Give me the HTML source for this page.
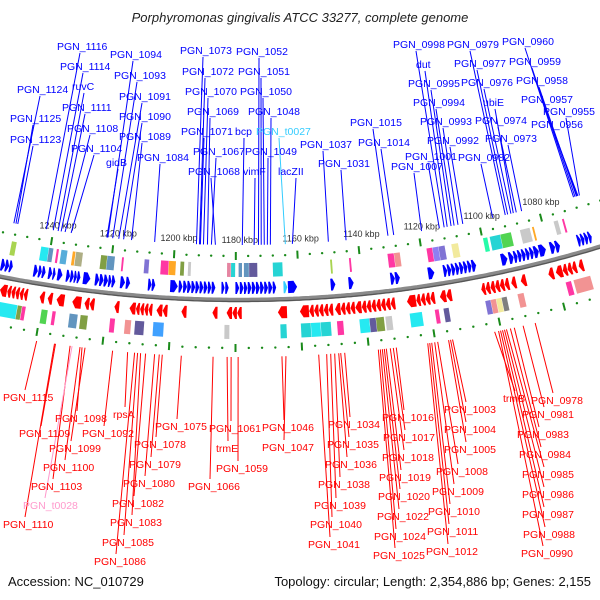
<!DOCTYPE html>
<html><head><meta charset="utf-8"><style>
html,body{margin:0;padding:0;background:#fff;}
svg{display:block;font-family:"Liberation Sans",sans-serif;}
</style></head><body>
<svg id="c" width="600" height="600" viewBox="0 0 600 600">
<text x="300" y="22" text-anchor="middle" font-size="13" font-style="italic" fill="#222">Porphyromonas gingivalis ATCC 33277, complete genome</text>
<text x="8" y="586" font-size="13" fill="#111">Accession: NC_010729</text>
<text x="591" y="586" font-size="13" fill="#111" text-anchor="end">Topology: circular; Length: 2,354,886 bp; Genes: 2,155</text>
</svg>
<script>
// ---- data ----
const fwdGenes = [[1254.6,1253.3],[1253.2,1252],[1251.9,1250.8],[1244.1,1242.8],[1242.6,1241.5],[1241.4,1240.3],[1239.4,1238.2],[1238,1237.1],[1236.5,1234.9],[1233.7,1232.5],[1232.4,1231.3],[1231.2,1230.3],[1230.2,1229.2],[1228.3,1226],[1224.5,1223.2],[1223.1,1221.8],[1221.7,1220.4],[1220.3,1219.3],[1219.2,1218.1],[1216.5,1215],[1214.7,1213.4],[1207.7,1206.6],[1206.5,1205.4],[1200.7,1198.3],[1198,1196.8],[1196.6,1195.4],[1195.3,1194.1],[1194,1192.8],[1192.7,1191.5],[1191.4,1190.2],[1190.1,1188.9],[1188.8,1187.7],[1187.6,1186.4],[1184.5,1183.5],[1183.3,1182.2],[1180.1,1178.9],[1178.7,1177.5],[1177.4,1176.3],[1176.2,1175],[1174.9,1173.7],[1173.6,1172.4],[1172.3,1171.1],[1171,1169.8],[1169.7,1168.4],[1168.3,1167.2],[1163.5,1160.6],[1150,1148.5],[1144.3,1142.7],[1131,1129.6],[1129.5,1128],[1119,1117],[1114.1,1112.9],[1112.8,1111.6],[1111.5,1110.3],[1110.2,1109],[1108.9,1107.7],[1107.6,1106.4],[1106.3,1105.1],[1105,1103.6],[1095.5,1093.5],[1093,1091.5],[1091.4,1090.2],[1090.1,1088.9],[1088.8,1087.6],[1087.5,1086.3],[1086.2,1085],[1084.9,1083.3],[1083.2,1081],[1079.6,1078],[1077.9,1076.4],[1070.7,1069.6],[1069.5,1068.4],[1068.3,1067.2],[1067.1,1066]];
const fwdTrna = [[1164.9,1163.7]];
const revGenes = [[1244.7,1245.9],[1246,1247.2],[1247.3,1248.5],[1248.6,1249.8],[1249.9,1251.1],[1251.2,1253.4],[1239.4,1240.9],[1236.9,1238.4],[1233.2,1235.6],[1227.9,1230.7],[1223.8,1225.3],[1225.4,1226.9],[1216.1,1217.6],[1205.8,1207],[1207.1,1208.3],[1208.4,1209.6],[1209.7,1210.9],[1211,1212.9],[1201.1,1202.6],[1202.7,1204.5],[1195.2,1196.8],[1185.6,1187.2],[1178.1,1179.5],[1179.6,1181],[1181.1,1182.8],[1164.1,1166.9],[1149.8,1151.2],[1151.3,1152.7],[1152.8,1154.2],[1154.3,1155.7],[1155.8,1157.2],[1157.3,1160.1],[1143,1144.4],[1144.5,1145.9],[1146,1147.4],[1147.5,1149.2],[1130.5,1131.9],[1132,1133.4],[1133.5,1134.9],[1135,1136.4],[1136.5,1137.9],[1138,1139.4],[1139.5,1140.9],[1141,1142.9],[1118.1,1119.5],[1119.6,1121],[1121.1,1122.5],[1122.6,1123.9],[1124,1126.8],[1112.8,1114.5],[1114.6,1116.5],[1094.7,1096.1],[1096.2,1097.6],[1097.7,1099.1],[1099.2,1100.6],[1100.7,1102.1],[1102.2,1103.5],[1092.5,1094],[1089.3,1091],[1080.5,1082.2],[1073.2,1074.6],[1074.7,1076.1],[1076.2,1077.6],[1077.7,1079.8],[1071,1072.5]];
const fwdBoxKbp = [[1252.6,1251],[1243,1240.5],[1240.4,1239],[1237.9,1237.2],[1236.4,1234.4],[1232.7,1231.8],[1231.6,1229.4],[1223.5,1221.5],[1221.4,1219],[1216.7,1216.1],[1209.4,1207.9],[1204.1,1201.6],[1201.5,1199.3],[1197.8,1196.6],[1195.3,1194.4],[1182.8,1181.6],[1181.5,1180.2],[1179.1,1178],[1177.4,1175.8],[1175.7,1173.1],[1168.1,1165],[1149.6,1149],[1143.5,1142.9],[1131,1129],[1128.9,1127],[1118.3,1116.5],[1116.4,1114.5],[1114.4,1112.4],[1110.2,1108],[1099.8,1098.4],[1097.6,1094.2],[1094.1,1090.6],[1087.6,1084.4],[1083.6,1083],[1076.4,1075],[1073.6,1073]];
const fwdBoxColor = ["#9acd32","#00e5ee","#4682b4","#ff1493","#3a9fd4","#ff9900","#a0a070","#6b8e23","#4682b4","#ff1493","#6a5acd","#ff1493","#ff9900","#6b8e23","#c0c0c0","#e07090","#00cccc","#4682b4","#4682b4","#483d8b","#00cccc","#9acd32","#ff1493","#ff1493","#f08080","#ff1493","#7b68ee","#6a5acd","#f0e68c","#00fa9a","#00cccc","#32cd32","#c0c0c0","#ff9900","#c0c0c0","#ff1493"];
const revBoxKbp = [[1247.2,1253.4],[1245.8,1247.1],[1244.6,1245.7],[1237.8,1239.7],[1235.3,1236.3],[1228.5,1231],[1225.4,1227.6],[1217,1218.5],[1212,1213.9],[1208,1210.8],[1202,1205.2],[1181.9,1183.4],[1164.4,1166.3],[1157,1160],[1154,1156.9],[1150.8,1153.9],[1147,1148.9],[1139,1142],[1137,1138.9],[1134.5,1136.9],[1132,1134],[1122.7,1126.5],[1117.5,1118.7],[1114.4,1116],[1101.4,1103],[1099.7,1101.3],[1098,1099.6],[1096.3,1097.9],[1091,1092.9],[1076,1077.7],[1069.9,1075.2]];
const revBoxColor = ["#00e5ee","#6b8e23","#ff1493","#32cd32","#ff1493","#4682b4","#6b8e23","#ff1493","#f08080","#483d8b","#1e90ff","#c0c0c0","#00cccc","#00cccc","#00e5ee","#00cccc","#ff1493","#00e5ee","#483d8b","#6b8e23","#c0c0c0","#00e5ee","#ff1493","#483d8b","#6a5acd","#f08080","#f0e68c","#696969","#f08080","#ff1493","#f08080"];
const tickKbp = [1240,1220,1200,1180,1160,1140,1120,1100,1080];
const tickLabels = ["1240 kbp","1220 kbp","1200 kbp","1180 kbp","1160 kbp","1140 kbp","1120 kbp","1100 kbp","1080 kbp"];
const fwdLabelNames = ["PGN_1124","PGN_1125","PGN_1123","PGN_1116","PGN_1114","ruvC","PGN_1111","PGN_1108","PGN_1104","PGN_1094","PGN_1093","PGN_1091","PGN_1090","PGN_1089","gidB","PGN_1084","PGN_1073","PGN_1072","PGN_1070","PGN_1069","PGN_1071","PGN_1067","PGN_1068","PGN_1052","PGN_1051","PGN_1050","PGN_1048","bcp","PGN_t0027","PGN_1049","vimF","lacZII","PGN_1037","PGN_1031","PGN_1015","PGN_1014","PGN_1007","PGN_1001","PGN_0998","dut","PGN_0995","PGN_0994","PGN_0993","PGN_0992","PGN_0979","PGN_0977","PGN_0976","ubiE","PGN_0974","PGN_0973","PGN_0982","PGN_0960","PGN_0959","PGN_0958","PGN_0957","PGN_0955","PGN_0956"];
const fwdLabelKbp = [1253.1,1252.4,1251.8,1242.3,1240,1238.4,1237.4,1236.1,1234.1,1222,1220.4,1218.4,1216.8,1214.2,1222.3,1206.6,1192.9,1191.9,1190.6,1189.3,1191.6,1188,1186.7,1172.6,1171.7,1170.7,1168.7,1177.9,1163.8,1169.7,1174,1161.5,1149.7,1143.9,1130.1,1128.2,1119,1113.1,1111.5,1110.5,1109.2,1108.2,1106.9,1105.3,1091.1,1090.3,1089.2,1088.4,1087.4,1085.6,1095.3,1068,1067.5,1067,1066.5,1066,1066.8];
const fwdLabelX = [17,10,10,57,60,72,62,67,71,110,114,119,119,119,106,137,180,182,185,187,181,193,188,236,238,240,248,235,256,245,243,278,300,318,350,358,391,405,393,416,408,413,420,427,447,454,461,483,475,485,458,502,509,516,521,543,531];
const fwdLabelY = [93,122,143,50,70,90,111,132,152,58,79,100,120,140,166,161,54,75,95,115,135,155,175,55,75,95,115,135,135,155,175,175,148,167,126,146,170,160,48,68,87,106,125,144,48,67,86,106,124,142,161,45,65,84,103,115,128];
const revLabelNames = ["PGN_1115","PGN_1109","PGN_1098","PGN_1092","rpsA","PGN_1099","PGN_1100","PGN_1103","PGN_t0028","PGN_1110","PGN_1075","PGN_1078","PGN_1079","PGN_1080","PGN_1082","PGN_1083","PGN_1085","PGN_1086","PGN_1061","trmE","PGN_1059","PGN_1066","PGN_1046","PGN_1047","PGN_1034","PGN_1035","PGN_1036","PGN_1038","PGN_1039","PGN_1040","PGN_1041","PGN_1016","PGN_1017","PGN_1018","PGN_1019","PGN_1020","PGN_1022","PGN_1024","PGN_1025","PGN_1003","PGN_1004","PGN_1005","PGN_1008","PGN_1009","PGN_1010","PGN_1011","PGN_1012","trmB","PGN_0978","PGN_0981","PGN_0983","PGN_0984","PGN_0985","PGN_0986","PGN_0987","PGN_0988","PGN_0990"];
const revLabelKbp = [1239.7,1234,1226,1216.8,1212.3,1225.1,1226.6,1229.6,1229,1234.3,1196.2,1201.9,1202.8,1204.2,1206.9,1208.4,1209.3,1210.2,1181.3,1182.5,1179.2,1186.7,1166.1,1164.9,1147.3,1148.5,1149.1,1150.3,1151.5,1152.7,1155.1,1131.8,1132.7,1133.6,1134.8,1135.4,1136,1136.6,1137.2,1114.8,1115.4,1116,1119.3,1120.2,1121.1,1121.7,1122.3,1102,1089.6,1093.3,1096,1097.2,1098.4,1099,1099.6,1100.2,1100.8];
const revLabelX = [3,19,55,82,113,49,43,31,23,3,155,134,129,123,112,110,102,94,209,216,216,188,262,262,328,327,325,318,314,310,308,382,383,382,379,378,377,374,373,444,444,444,436,432,428,427,426,503,531,522,517,519,522,522,522,523,521];
const revLabelY = [401,437,422,437,418,452,471,490,509,528,430,448,468,487,507,526,546,565,432,452,472,490,431,451,428,448,468,488,509,528,548,421,441,461,481,500,520,540,559,413,433,453,475,495,515,535,555,402,404,418,438,458,478,498,518,538,557];

// ---- geometry ----
const CX = 240, CY = -942, R = 1242;
function phi(k){ return (-9.05 + (1240 - k) * 0.1475) * Math.PI / 180; }
function pt(k, r){ const a = phi(k); return [CX + r * Math.sin(a), CY + r * Math.cos(a)]; }
const NS = "http://www.w3.org/2000/svg";
const svg = document.getElementById('c');
function mk(tag, attrs, parent){ const e = document.createElementNS(NS, tag); for (const k in attrs) e.setAttribute(k, attrs[k]); (parent || svg).appendChild(e); return e; }
function f(p){ return p[0].toFixed(1) + ',' + p[1].toFixed(1); }

// backbone
let d = '';
for (let k = 1275; k >= 1040; k -= 1) d += (d ? 'L' : 'M') + f(pt(k, R));
const bb = mk('path', {d: d, stroke: '#8a8a8a', 'stroke-width': 4.5, fill: 'none'});


const bb2 = mk('path', {d: d, stroke: '#555', 'stroke-width': 1.2, fill: 'none', transform: 'translate(0,1.5)'});



// arrows
function arrow(tail, tip, rc, color, name){
  const h = 6;
  const len = Math.abs(tail - tip);
  const hl = Math.min(len * 0.6, 1.1);
  const base = tail > tip ? tip + hl : tip - hl;
  const p = [pt(tail, rc - h), pt(base, rc - h), pt(tip, rc), pt(base, rc + h), pt(tail, rc + h)];
  const e = mk('polygon', {points: p.map(f).join(' '), fill: color});
  
  
}
fwdGenes.forEach(g => arrow(g[0], g[1], R - 12, '#0000ff', 'forward-gene'));
fwdTrna.forEach(g => arrow(g[0], g[1], R - 12, '#33ccff', 'forward-trna'));
revGenes.forEach(g => arrow(g[0], g[1], R + 13, '#ff0000', 'reverse-gene'));

// boxes
function box(a, b, rc, h, color, name){
  const p = [pt(a, rc - h), pt(b, rc - h), pt(b, rc + h), pt(a, rc + h)];
  const e = mk('polygon', {points: p.map(f).join(' '), fill: color, 'fill-opacity': 0.85});
  
  
}
fwdBoxKbp.forEach((b, i) => box(b[0], b[1], R - 30, 7, fwdBoxColor[i], 'forward-cog-box'));
revBoxKbp.forEach((b, i) => box(b[0], b[1], R + 32, 7, revBoxColor[i], 'reverse-cog-box'));

// dotted rings & ticks
for (let k = 1260; k >= 1060; k -= 4){
  [R - 44, R + 48].forEach(r => {
    const isTick = tickKbp.indexOf(k) >= 0;
    if (isTick){
      const a = pt(k, r - 4), b = pt(k, r + 4);
      const e = mk('line', {x1: a[0], y1: a[1], x2: b[0], y2: b[1], stroke: '#1a8a1a', 'stroke-width': 2});
      
      
    } else {
      const c = pt(k, r);
      const e = mk('circle', {cx: c[0], cy: c[1], r: 1.2, fill: '#1a8a1a'});
      
      
    }
  });
}
tickKbp.forEach((k, i) => {
  const c = pt(k, R - 60);
  const t = mk('text', {x: c[0] + 4, y: c[1] + 3, 'font-size': 9, fill: '#333', 'text-anchor': 'middle'});
  t.textContent = tickLabels[i];
  
  
});

// labels
function labelColor(n, base){ if (n === 'PGN_t0027') return '#33ccff'; if (n === 'PGN_t0028') return '#ff99cc'; return base; }
fwdLabelNames.forEach((n, i) => {
  const col = labelColor(n, '#0000ff');
  const a = pt(fwdLabelKbp[i], R - 55);
  const ax = fwdLabelX[i] + Math.min(23, n.length * 3);
  const ln = mk('line', {x1: a[0], y1: a[1], x2: ax, y2: fwdLabelY[i] + 3, stroke: col, 'stroke-width': 1});
  
  
});
revLabelNames.forEach((n, i) => {
  const col = labelColor(n, '#ff0000');
  const a = pt(revLabelKbp[i], R + 57);
  const ax = revLabelX[i] + Math.min(22, n.length * 3);
  const ln = mk('line', {x1: a[0], y1: a[1], x2: ax, y2: revLabelY[i] - 11, stroke: col, 'stroke-width': 1});
  
  
});
fwdLabelNames.forEach((n, i) => {
  const t = mk('text', {x: fwdLabelX[i], y: fwdLabelY[i], 'font-size': 10.5, fill: labelColor(n, '#0000ff')});
  t.textContent = n;
  
  
});
revLabelNames.forEach((n, i) => {
  const t = mk('text', {x: revLabelX[i], y: revLabelY[i], 'font-size': 10.5, fill: labelColor(n, '#ff0000')});
  t.textContent = n;
  
  
});
</script>
</body></html>
